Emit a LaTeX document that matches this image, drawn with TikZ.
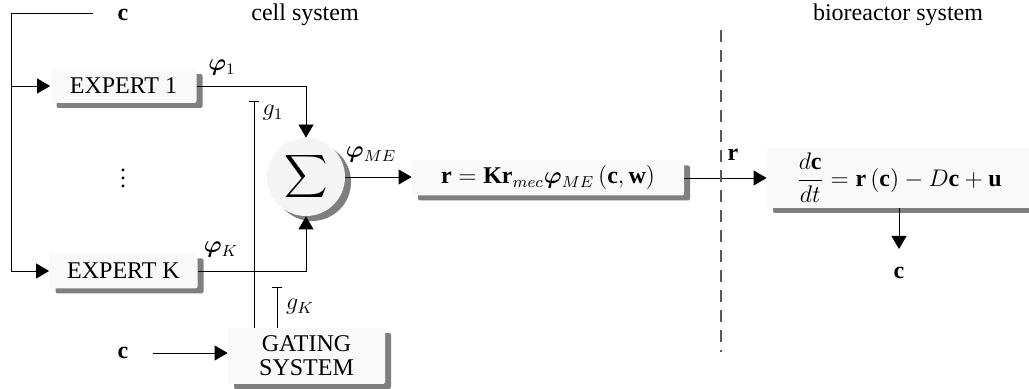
\documentclass[tikz,border=0pt]{standalone}
\usepackage{amsmath,bm}
\usepackage{fontspec}
\setmainfont{Liberation Serif}
\usetikzlibrary{shadows,arrows.meta}
\begin{document}
\begin{tikzpicture}[x=0.5pt,y=-0.5pt,
  font=\fontsize{12pt}{14pt}\selectfont,
  blk/.style={fill=gray!5, rounded corners=1pt, inner sep=0pt, align=center,
    drop shadow={shadow xshift=3pt,shadow yshift=-2.5pt,fill=black,opacity=0.5}},
  arr/.style={-{Triangle[length=6.5pt,width=7.5pt]}},
  gline/.style={{Bar[width=5pt]}-},
  lbl/.style={inner sep=0pt}]
\useasboundingbox (0,0) rectangle (1029,389);

% titles
\node[lbl] (tcell) at (305,15) {cell system};
\node[lbl] (tbio) at (898,15) {bioreactor system};

% blocks
\node[blk, minimum width=73pt, minimum height=17pt] (e1) at (123.5,86) {EXPERT 1};
\node[blk, minimum width=74pt, minimum height=17.5pt] (ek) at (123.5,271) {EXPERT K};
\node[lbl] (dots) at (123,172) {$\vdots$};
\node[blk, circle, fill=gray!8, minimum size=39pt] (sig) at (306,177)
  {\scalebox{1.25}{$\displaystyle\sum$}};
\node[blk, minimum width=78.5pt, minimum height=28pt] (gate) at (306.5,356) {GATING\\[-2pt]SYSTEM};
\node[blk, minimum width=136pt, minimum height=17.5pt] (rb) at (548,178)
  {$\mathbf{r}=\mathbf{K}\mathbf{r}_{mec}\bm{\varphi}_{ME}\left(\mathbf{c},\mathbf{w}\right)$};
\node[blk, minimum width=132pt, minimum height=30pt] (eq) at (899,178)
  {$\dfrac{d\mathbf{c}}{dt}=\mathbf{r}\left(\mathbf{c}\right)-D\mathbf{c}+\mathbf{u}$};

% labels
\node[lbl] (ctop) at (123,15) {$\mathbf{c}$};
\node[lbl] (cbot) at (123,353) {$\mathbf{c}$};
\node[lbl] (cout) at (899,273) {$\mathbf{c}$};
\node[lbl] (phi1) at (222,68) {$\bm{\varphi}_1$};
\node[lbl] (phik) at (221,250) {$\bm{\varphi}_K$};
\node[lbl] (phime) at (371,155) {$\bm{\varphi}_{ME}$};
\node[lbl] (rlab) at (733,155) {$\mathbf{r}$};
\node[lbl] (g1) at (273,113) {$g_1$};
\node[lbl] (gk) at (300,307) {$g_K$};

% coordinates
\coordinate (cin) at (93,13);
\coordinate (cl) at (11,13);
\coordinate (g1top) at (254,101);
\coordinate (gktop) at (277,287);
\coordinate (dtop) at (721,30);
\coordinate (dbot) at (721,352);
\coordinate (cbin) at (153,353);
\coordinate (eqout) at (899,249);

% connectors
\draw[arr] (cin) -- (cl) |- (ek.west);
\draw[arr] (cl |- e1.west) -- (e1.west);
\draw[arr] (e1.east) -| (sig.north);
\draw[arr] (ek.east) -| (sig.south);
\draw[gline] (g1top) -- (g1top |- gate.north);
\draw[gline] (gktop) -- (gktop |- gate.north);
\draw[arr] (cbin) -- (cbin -| gate.west);
\draw[arr] (sig.east) -- (sig.east -| rb.west);
\draw[arr] (rb.east) -- (rb.east -| eq.west);
\draw[arr] (eq.south) -- (eqout);
\draw[gray!70!black, line width=0.6pt, dash pattern=on 6pt off 4pt] (dtop) -- (dbot);
\end{tikzpicture}
\end{document}
